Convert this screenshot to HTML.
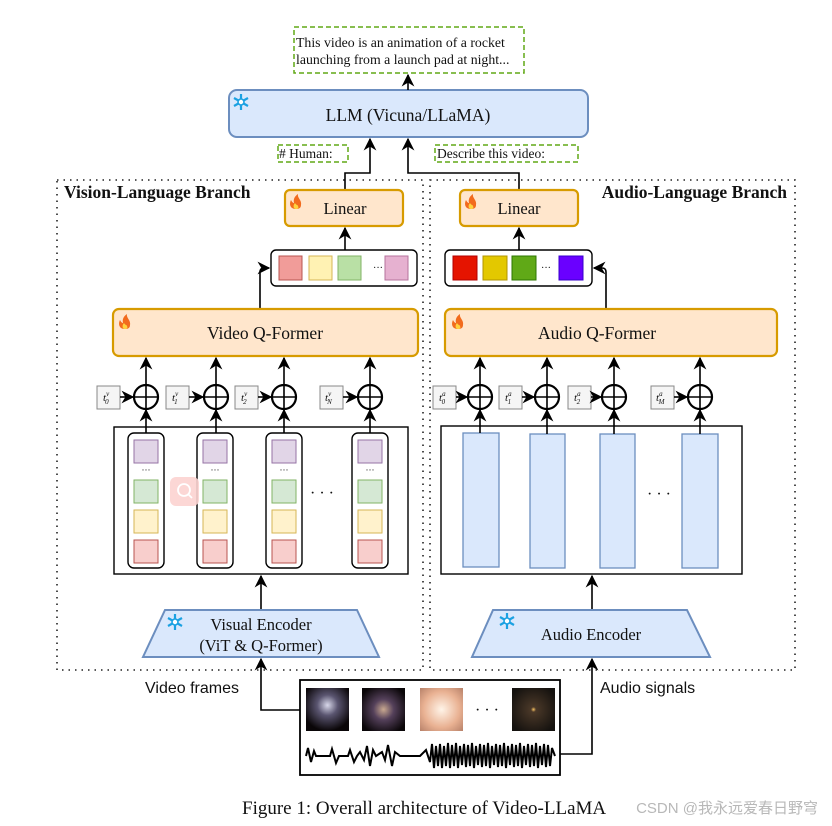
<!DOCTYPE html>
<html><head><meta charset="utf-8"><style>
html,body{margin:0;padding:0;background:#fff}
svg{display:block}
text{font-family:"Liberation Serif",serif;fill:#111}
</style></head><body>
<svg width="832" height="826" viewBox="0 0 832 826" xmlns="http://www.w3.org/2000/svg">
<defs>
<marker id="a" viewBox="0 0 10 10" refX="9" refY="5" markerWidth="8" markerHeight="8" orient="auto"><path d="M0,0 L10,5 L0,10 L3,5z" fill="#000"/></marker>
<g id="snow"><g stroke="#1ba1e2" stroke-width="2.2" fill="none"><path d="M0,-8V8M-7,-4L7,4M-7,4L7,-4"/></g><circle r="3" fill="#fff" stroke="#1ba1e2" stroke-width="1.6"/></g>
<g id="fire"><path d="M0,7 C-6,7 -7,2 -5,-2 C-4,0 -3,1 -2,1 C-3,-3 -1,-6 2,-8 C1,-4 6,-2 5,3 C5,6 3,7 0,7z" fill="#f26b1d"/><path d="M0,7 C-3,7 -3,3 -1,1 C0,3 2,3 2,4 C3,6 2,7 0,7z" fill="#ffd23f"/></g>
</defs>

<rect x="57" y="180" width="366" height="490" fill="none" stroke="#222" stroke-width="1.6" stroke-dasharray="1.5 5"/>
<rect x="430" y="180" width="365" height="490" fill="none" stroke="#222" stroke-width="1.6" stroke-dasharray="1.5 5"/>
<text x="64" y="198" font-size="17.5" font-weight="bold">Vision-Language Branch</text>
<text x="787" y="198" font-size="17.5" font-weight="bold" text-anchor="end">Audio-Language Branch</text>

<rect x="294" y="27" width="230" height="46" fill="none" stroke="#60a917" stroke-width="1.5" stroke-dasharray="5 3"/>
<text x="296" y="47" font-size="13.8">This video is an animation of a rocket</text>
<text x="296" y="64" font-size="13.8">launching from a launch pad at night...</text>

<rect x="229" y="90" width="359" height="47" rx="8" fill="#dae8fc" stroke="#6c8ebf" stroke-width="2"/>
<use href="#snow" x="241" y="102"/>
<text x="408" y="121" font-size="17.5" text-anchor="middle">LLM (Vicuna/LLaMA)</text>
<line x1="408" y1="90" x2="408" y2="75" stroke="#000" stroke-width="1.6" marker-end="url(#a)"/>

<rect x="278" y="145" width="70" height="17" fill="none" stroke="#60a917" stroke-width="1.5" stroke-dasharray="5 3"/>
<text x="279" y="158" font-size="13.5">#  Human:</text>
<rect x="435" y="145" width="143" height="17" fill="none" stroke="#60a917" stroke-width="1.5" stroke-dasharray="5 3"/>
<text x="437" y="158" font-size="13.5">Describe this video:</text>

<polyline points="345,190 345,173 370,173 370,139" fill="none" stroke="#000" stroke-width="1.6" marker-end="url(#a)"/>
<polyline points="519,190 519,173 408,173 408,139" fill="none" stroke="#000" stroke-width="1.6" marker-end="url(#a)"/>

<rect x="285" y="190" width="118" height="36" rx="5" fill="#ffe6cc" stroke="#d79b00" stroke-width="2.2"/>
<use href="#fire" x="296" y="202"/>
<text x="345" y="214" font-size="16.5" text-anchor="middle">Linear</text>
<rect x="460" y="190" width="118" height="36" rx="5" fill="#ffe6cc" stroke="#d79b00" stroke-width="2.2"/>
<use href="#fire" x="471" y="202"/>
<text x="519" y="214" font-size="16.5" text-anchor="middle">Linear</text>

<line x1="345" y1="250" x2="345" y2="228" stroke="#000" stroke-width="1.6" marker-end="url(#a)"/>
<line x1="519" y1="250" x2="519" y2="228" stroke="#000" stroke-width="1.6" marker-end="url(#a)"/>
<rect x="271" y="250" width="146" height="36" rx="5" fill="#fff" stroke="#000" stroke-width="1.4"/>
<rect x="279" y="256" width="23" height="24" fill="#f19c99" stroke="#b85450"/>
<rect x="309" y="256" width="23" height="24" fill="#fff2b3" stroke="#d6b656"/>
<rect x="338" y="256" width="23" height="24" fill="#b9e0a5" stroke="#82b366"/>
<text x="373" y="271" font-size="10" fill="#555">···</text>
<rect x="385" y="256" width="23" height="24" fill="#e6b1d0" stroke="#b5739d"/>
<rect x="445" y="250" width="147" height="36" rx="5" fill="#fff" stroke="#000" stroke-width="1.4"/>
<rect x="453" y="256" width="24" height="24" fill="#e51400" stroke="#b20000"/>
<rect x="483" y="256" width="24" height="24" fill="#e3c800" stroke="#b09500"/>
<rect x="512" y="256" width="24" height="24" fill="#60a917" stroke="#2d7600"/>
<text x="541" y="271" font-size="10" fill="#555">···</text>
<rect x="559" y="256" width="24" height="24" fill="#6a00ff" stroke="#3700cc"/>

<path d="M260,309 V272 Q260,268 264,268 H269" fill="none" stroke="#000" stroke-width="1.6" marker-end="url(#a)"/>
<path d="M606,309 V272 Q606,268 602,268 H594" fill="none" stroke="#000" stroke-width="1.6" marker-end="url(#a)"/>

<rect x="113" y="309" width="305" height="47" rx="6" fill="#ffe6cc" stroke="#d79b00" stroke-width="2.2"/>
<use href="#fire" x="125" y="322"/>
<text x="265" y="339" font-size="17.5" text-anchor="middle">Video Q-Former</text>
<rect x="445" y="309" width="332" height="47" rx="6" fill="#ffe6cc" stroke="#d79b00" stroke-width="2.2"/>
<use href="#fire" x="458" y="322"/>
<text x="597" y="339" font-size="17.5" text-anchor="middle">Audio Q-Former</text>

<g font-style="italic" font-size="11">
<rect x="97" y="386" width="23" height="23" fill="#f5f5f5" stroke="#888"/><text x="103" y="401">t<tspan font-size="7" dy="-5">v</tspan><tspan font-size="7" dx="-4" dy="8">0</tspan></text>
<rect x="166" y="386" width="23" height="23" fill="#f5f5f5" stroke="#888"/><text x="172" y="401">t<tspan font-size="7" dy="-5">v</tspan><tspan font-size="7" dx="-4" dy="8">1</tspan></text>
<rect x="235" y="386" width="23" height="23" fill="#f5f5f5" stroke="#888"/><text x="241" y="401">t<tspan font-size="7" dy="-5">v</tspan><tspan font-size="7" dx="-4" dy="8">2</tspan></text>
<rect x="320" y="386" width="23" height="23" fill="#f5f5f5" stroke="#888"/><text x="325" y="401">t<tspan font-size="7" dy="-5">v</tspan><tspan font-size="7" dx="-4" dy="8">N</tspan></text>
<rect x="433" y="386" width="23" height="23" fill="#f5f5f5" stroke="#888"/><text x="439" y="401">t<tspan font-size="7" dy="-5">a</tspan><tspan font-size="7" dx="-4" dy="8">0</tspan></text>
<rect x="499" y="386" width="23" height="23" fill="#f5f5f5" stroke="#888"/><text x="505" y="401">t<tspan font-size="7" dy="-5">a</tspan><tspan font-size="7" dx="-4" dy="8">1</tspan></text>
<rect x="568" y="386" width="23" height="23" fill="#f5f5f5" stroke="#888"/><text x="574" y="401">t<tspan font-size="7" dy="-5">a</tspan><tspan font-size="7" dx="-4" dy="8">2</tspan></text>
<rect x="651" y="386" width="23" height="23" fill="#f5f5f5" stroke="#888"/><text x="656" y="401">t<tspan font-size="7" dy="-5">a</tspan><tspan font-size="7" dx="-4" dy="8">M</tspan></text>
</g>
<g stroke="#000" stroke-width="1.6" fill="none">
<circle cx="146" cy="397" r="12" stroke-width="2.2"/><path d="M134,397H158M146,385V409"/>
<circle cx="216" cy="397" r="12" stroke-width="2.2"/><path d="M204,397H228M216,385V409"/>
<circle cx="284" cy="397" r="12" stroke-width="2.2"/><path d="M272,397H296M284,385V409"/>
<circle cx="370" cy="397" r="12" stroke-width="2.2"/><path d="M358,397H382M370,385V409"/>
<circle cx="480" cy="397" r="12" stroke-width="2.2"/><path d="M468,397H492M480,385V409"/>
<circle cx="547" cy="397" r="12" stroke-width="2.2"/><path d="M535,397H559M547,385V409"/>
<circle cx="614" cy="397" r="12" stroke-width="2.2"/><path d="M602,397H626M614,385V409"/>
<circle cx="700" cy="397" r="12" stroke-width="2.2"/><path d="M688,397H712M700,385V409"/>
</g>
<g stroke="#000" stroke-width="1.6" fill="none" marker-end="url(#a)">
<line x1="120" y1="397" x2="133" y2="397"/><line x1="189" y1="397" x2="203" y2="397"/><line x1="258" y1="397" x2="271" y2="397"/><line x1="343" y1="397" x2="357" y2="397"/>
<line x1="456" y1="397" x2="467" y2="397"/><line x1="522" y1="397" x2="534" y2="397"/><line x1="591" y1="397" x2="601" y2="397"/><line x1="674" y1="397" x2="687" y2="397"/>
<line x1="146" y1="385" x2="146" y2="358"/><line x1="216" y1="385" x2="216" y2="358"/><line x1="284" y1="385" x2="284" y2="358"/><line x1="370" y1="385" x2="370" y2="358"/>
<line x1="480" y1="385" x2="480" y2="358"/><line x1="547" y1="385" x2="547" y2="358"/><line x1="614" y1="385" x2="614" y2="358"/><line x1="700" y1="385" x2="700" y2="358"/>
<line x1="146" y1="433" x2="146" y2="410"/><line x1="216" y1="433" x2="216" y2="410"/><line x1="284" y1="433" x2="284" y2="410"/><line x1="370" y1="433" x2="370" y2="410"/>
<line x1="480" y1="434" x2="480" y2="410"/><line x1="547" y1="434" x2="547" y2="410"/><line x1="614" y1="434" x2="614" y2="410"/><line x1="700" y1="434" x2="700" y2="410"/>
</g>

<rect x="114" y="427" width="294" height="147" fill="#fff" stroke="#000" stroke-width="1.4"/>
<g id="col">
<rect x="128" y="433" width="36" height="135" rx="6" fill="#fff" stroke="#000" stroke-width="1.4"/>
<rect x="134" y="440" width="24" height="23" fill="#e1d5e7" stroke="#9673a6"/>
<text x="146" y="473" font-size="9" text-anchor="middle" fill="#444">···</text>
<rect x="134" y="480" width="24" height="23" fill="#d5e8d4" stroke="#82b366"/>
<rect x="134" y="510" width="24" height="23" fill="#fff2cc" stroke="#d6b656"/>
<rect x="134" y="540" width="24" height="23" fill="#f8cecc" stroke="#b85450"/>
</g>
<use href="#col" x="69"/><use href="#col" x="138"/><use href="#col" x="224"/>
<g stroke="#000" stroke-width="1.6"><line x1="146" y1="433" x2="146" y2="427"/><line x1="216" y1="433" x2="216" y2="427"/><line x1="284" y1="433" x2="284" y2="427"/><line x1="370" y1="433" x2="370" y2="427"/></g>
<text x="322" y="498" font-size="16" text-anchor="middle">· · ·</text>
<rect x="170" y="477" width="29" height="29" rx="6" fill="#fcd3d0" opacity="0.9"/>
<circle cx="184" cy="490" r="6" fill="none" stroke="#fff" stroke-width="1.8"/><line x1="188" y1="494" x2="192" y2="498" stroke="#fff" stroke-width="1.8"/>

<rect x="441" y="426" width="301" height="148" fill="#fff" stroke="#000" stroke-width="1.4"/>
<g fill="#dae8fc" stroke="#6c8ebf" stroke-width="1.3">
<rect x="463" y="433" width="36" height="134"/>
<rect x="530" y="434" width="35" height="134"/>
<rect x="600" y="434" width="35" height="134"/>
<rect x="682" y="434" width="36" height="134"/>
</g>
<g stroke="#000" stroke-width="1.6"><line x1="480" y1="426" x2="480" y2="433"/><line x1="547" y1="426" x2="547" y2="434"/><line x1="614" y1="426" x2="614" y2="434"/><line x1="700" y1="426" x2="700" y2="434"/></g>
<text x="659" y="499" font-size="16" text-anchor="middle">· · ·</text>

<line x1="261" y1="610" x2="261" y2="576" stroke="#000" stroke-width="1.6" marker-end="url(#a)"/>
<line x1="592" y1="610" x2="592" y2="576" stroke="#000" stroke-width="1.6" marker-end="url(#a)"/>
<polygon points="165,610 357,610 379,657 143,657" fill="#dae8fc" stroke="#6c8ebf" stroke-width="2"/>
<use href="#snow" x="175" y="622"/>
<text x="261" y="630" font-size="16.5" text-anchor="middle">Visual Encoder</text>
<text x="261" y="651" font-size="16.5" text-anchor="middle">(ViT &amp; Q-Former)</text>
<polygon points="493,610 687,610 710,657 472,657" fill="#dae8fc" stroke="#6c8ebf" stroke-width="2"/>
<use href="#snow" x="507" y="621"/>
<text x="591" y="640" font-size="16.5" text-anchor="middle">Audio Encoder</text>

<text x="145" y="693" font-size="16" style="font-family:'Liberation Sans',sans-serif">Video frames</text>
<text x="600" y="693" font-size="16" style="font-family:'Liberation Sans',sans-serif">Audio signals</text>
<polyline points="306,710 261,710 261,659" fill="none" stroke="#000" stroke-width="1.6" marker-end="url(#a)"/>
<polyline points="555,754 592,754 592,659" fill="none" stroke="#000" stroke-width="1.6" marker-end="url(#a)"/>
<rect x="300" y="680" width="260" height="95" fill="#fff" stroke="#000" stroke-width="1.8"/>
<defs>
<radialGradient id="g1" cx="0.5" cy="0.4" r="0.6"><stop offset="0" stop-color="#d8d8ea"/><stop offset="0.4" stop-color="#5a5570"/><stop offset="1" stop-color="#0a0608"/></radialGradient>
<radialGradient id="g2" cx="0.5" cy="0.5" r="0.6"><stop offset="0" stop-color="#c9a890"/><stop offset="0.4" stop-color="#54405a"/><stop offset="1" stop-color="#0a0608"/></radialGradient>
<radialGradient id="g3" cx="0.5" cy="0.5" r="0.7"><stop offset="0" stop-color="#fff4e8"/><stop offset="0.6" stop-color="#e9b192"/><stop offset="1" stop-color="#b8826a"/></radialGradient>
<radialGradient id="g4" cx="0.5" cy="0.5" r="0.6"><stop offset="0" stop-color="#f5c060"/><stop offset="0.1" stop-color="#4a3828"/><stop offset="1" stop-color="#15120f"/></radialGradient>
</defs>
<rect x="306" y="688" width="43" height="43" fill="url(#g1)"/>
<rect x="362" y="688" width="43" height="43" fill="url(#g2)"/>
<rect x="420" y="688" width="43" height="43" fill="url(#g3)"/>
<rect x="512" y="688" width="43" height="43" fill="url(#g4)"/>
<text x="487" y="715" font-size="16" text-anchor="middle">· · ·</text>
<path d="M306,756 L308,748 L311,762 L314,751 L316,756 L330,756 L332,749 L336,763 L339,756 L348,756 L350,750 L354,762 L357,756 L360,752 L364,760 L367,746 L370,766 L373,750 L376,756 L382,752 L385,760 L388,745 L392,766 L395,752 L400,756 L420,756 L426,750 L430,762 L432,744 L434,768 L436,746 L438,766 L440,744 L442,768 L444,746 L446,766 L448,743 L450,768 L452,745 L454,766 L456,743 L458,768 L460,746 L462,765 L464,744 L466,767 L468,745 L470,766 L472,743 L474,768 L476,746 L478,765 L480,744 L482,767 L484,745 L486,766 L488,743 L490,768 L492,746 L494,765 L496,744 L498,767 L500,745 L502,766 L504,743 L506,768 L508,746 L510,765 L512,744 L514,767 L516,745 L518,766 L520,743 L522,768 L524,746 L526,765 L528,744 L530,767 L532,745 L534,766 L536,743 L538,768 L540,746 L542,765 L544,744 L546,767 L548,745 L550,766 L552,748 L555,756" fill="none" stroke="#000" stroke-width="2"/>

<text x="242" y="814" font-size="19">Figure 1: Overall architecture of Video-LLaMA</text>
<text x="818" y="813" font-size="15" text-anchor="end" style="font-family:'Liberation Sans','Noto Sans CJK SC',sans-serif;fill:#b8b8b8">CSDN @我永远爱春日野穹</text>
</svg>
</body></html>
